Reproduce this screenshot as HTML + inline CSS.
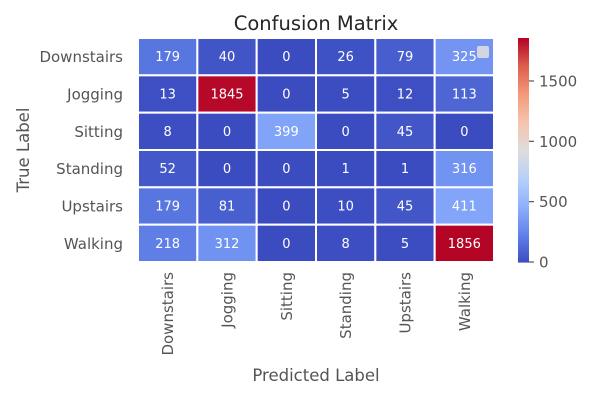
<!DOCTYPE html>
<html><head><meta charset="utf-8"><style>
body{margin:0;background:#fff;}
svg text{font-family:"DejaVu Sans","Liberation Sans",sans-serif;}
</style></head><body>
<svg id="c" width="600" height="400" xmlns="http://www.w3.org/2000/svg">
<text x="316" y="30" font-size="19.5" fill="#262626" text-anchor="middle">Confusion Matrix</text>
<text x="316" y="381" font-size="16.5" fill="#555" text-anchor="middle">Predicted Label</text>
<text transform="translate(29,150) rotate(-90)" font-size="16.5" fill="#555" text-anchor="middle">True Label</text>
<g id="cells"></g>
<g id="cbar"></g>
<rect x="477" y="46" width="12" height="12" rx="2" fill="#d3d6e0"/>
</svg>
<script>
const labels=["Downstairs","Jogging","Sitting","Standing","Upstairs","Walking"];
const row0=[179,40,0,26,79,325];
const row1=[13,1845,0,5,12,113];
const row2=[8,0,399,0,45,0];
const row3=[52,0,0,1,1,316];
const row4=[179,81,0,10,45,411];
const row5=[218,312,0,8,5,1856];
const cbTicks=[0,500,1000,1500];
const matrix=[row0,row1,row2,row3,row4,row5];
const NS="http://www.w3.org/2000/svg";
const vmax=Math.max(...matrix.flat());
const L=138,R=494,T=38,B=262;
const cw=(R-L)/labels.length, ch=(B-T)/labels.length;
const stops=[[59,76,192],[97,130,234],[141,176,254],[184,208,249],[221,221,221],[245,196,173],[244,154,123],[222,96,77],[180,4,38]];
function cmap(t){t=Math.max(0,Math.min(1,t));const p=t*8,i=Math.min(7,Math.floor(p)),f=p-i;
const a=stops[i],b=stops[i+1];return `rgb(${a.map((v,k)=>Math.round(v+(b[k]-v)*f)).join(',')})`;}
function mk(tag,at,parent){const e=document.createElementNS(NS,tag);for(const k in at)e.setAttribute(k,at[k]);parent.appendChild(e);return e;}
const g=document.getElementById('cells');
matrix.forEach((row,r)=>{row.forEach((v,c)=>{
 const rc=mk('rect',{x:L+c*cw,y:T+r*ch,width:cw,height:ch,fill:cmap(v/vmax),stroke:'#fff','stroke-width':2},g);
 
 
 const t=mk('text',{x:L+(c+.5)*cw,y:T+(r+.5)*ch+4.5,'font-size':13,fill:'#fff','text-anchor':'middle'},g);
 t.textContent=v;
 
 
});});
labels.forEach((lab,i)=>{
 const y=mk('text',{x:123,y:T+(i+.5)*ch+5.5,'font-size':15,fill:'#555','text-anchor':'end'},g);
 y.textContent=lab;
 
 
 const xx=L+(i+.5)*cw+5.5;
 const x=mk('text',{transform:`translate(${xx},${B+10}) rotate(-90)`,'font-size':15,fill:'#555','text-anchor':'end'},g);
 x.textContent=lab;
 
 
});
const cb=document.getElementById('cbar');
const cx=518,cwid=11,N=112;
for(let i=0;i<N;i++){const r=mk('rect',{x:cx,y:B-(i+1)*(B-T)/N,width:cwid,height:(B-T)/N+0.6,fill:cmap((i+.5)/N)},cb);
 
 }
cbTicks.forEach(v=>{const y=B-v/vmax*(B-T);
 const l=mk('line',{x1:cx+cwid,x2:cx+cwid+5,y1:y,y2:y,stroke:'#555','stroke-width':1.2},cb);
 
 
 const t=mk('text',{x:cx+cwid+10,y:y+5.5,'font-size':15,fill:'#555'},cb);
 t.textContent=v;
 
 });
</script>
</body></html>
